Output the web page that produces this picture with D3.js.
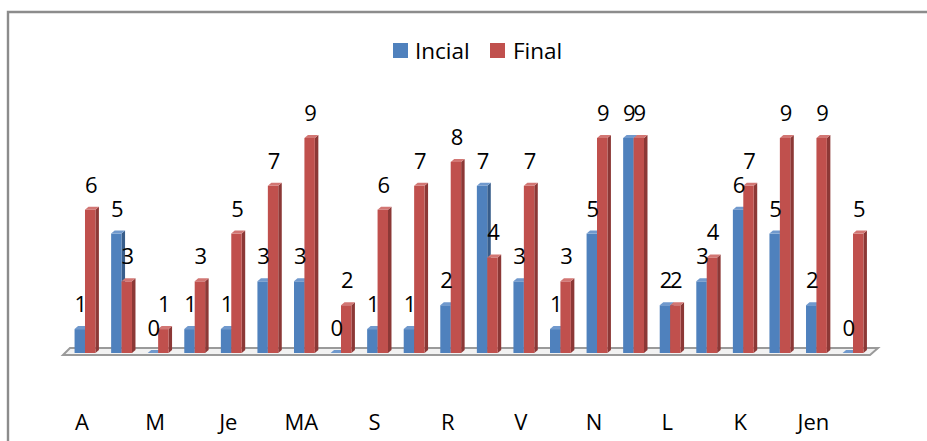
<!DOCTYPE html>
<html><head><meta charset="utf-8">
<script src="https://cdn.jsdelivr.net/npm/d3@7"></script>
<style>html,body{margin:0;padding:0;background:#fff;}svg{display:block;}</style>
</head><body>
<svg id="c" width="927" height="441"></svg>
<script>
const tickLabels = ["A","M","Je","MA","S","R","V","N","L","K","Jen"];
const seriesNames = ["Incial","Final"];
const incial = [1,5,0,1,1,3,3,0,1,1,2,7,3,1,5,9,2,3,6,5,2,0];
const final  = [6,3,1,3,5,7,9,2,6,7,8,4,7,3,9,9,2,4,7,9,9,5];

const colors = {
  Incial: {front:"#4F81BD", top:"#7099CD", side:"#385D8A"},
  Final:  {front:"#C0504D", top:"#D27673", side:"#8C3836"}
};
const FONT = "'Open Sans', 'Liberation Sans', sans-serif";
const svg = d3.select("#c");

// frame
svg.append("path").attr("d","M8,441 V12 H927").attr("fill","none").attr("stroke","#8c8c8c").attr("stroke-width",2.4);

const n = incial.length;
const x0 = d3.scaleBand().domain(d3.range(n)).range([66.7, 871.3]).paddingInner(0.43).paddingOuter(0.215);
const x1 = d3.scaleBand().domain(seriesNames).range([0, x0.bandwidth()]);
const y = d3.scaleLinear().domain([0, 10]).range([353, 114.1]);

const dx = 3.5, dy = 3;

// floor
const fy = y(0);
svg.append("path")
  .attr("d", `M63,${fy+2} L70,${fy-5} L878,${fy-5} L870,${fy+2} Z`)
  .attr("fill","#f2f2f2").attr("stroke","#9a9a9a").attr("stroke-width",2);

const g = svg.append("g");
const data = d3.range(n).map(i => ({i, vals:[{s:"Incial", v:incial[i]},{s:"Final", v:final[i]}]}));

data.forEach(d => {
  d.vals.forEach(b => {
    const xl = x0(d.i) + x1(b.s), w = x1.bandwidth();
    const yt = y(b.v), yb = y(0);
    const c = colors[b.s];
    g.append("path").attr("d", `M${xl+w},${yt} L${xl+w+dx},${yt-dy} L${xl+w+dx},${yb-dy} L${xl+w},${yb} Z`).attr("fill", c.side);
    g.append("rect").attr("x", xl).attr("y", yt).attr("width", w).attr("height", Math.max(0, yb-yt)).attr("fill", c.front);
    g.append("path").attr("d", `M${xl},${yt} L${xl+dx},${yt-dy} L${xl+w+dx},${yt-dy} L${xl+w},${yt} Z`).attr("fill", c.top);
  });
});

// data labels
const lg = svg.append("g").attr("font-family", FONT).attr("font-size", 22).attr("fill","#000").attr("text-anchor","middle");
data.forEach(d => {
  d.vals.forEach(b => {
    lg.append("text")
      .attr("x", x0(d.i) + x1(b.s) + x1.bandwidth()/2 + 1)
      .attr("y", y(b.v) - 17)
      .text(b.v);
  });
});

// category axis
const ax = svg.append("g").attr("transform","translate(-3,430)")
  .call(d3.axisBottom(x0).tickValues(d3.range(0, n, 2)).tickFormat(i => tickLabels[i/2]).tickSize(0).tickPadding(0));
ax.select(".domain").remove();
ax.selectAll("text").attr("font-family", FONT).attr("font-size", 22).attr("fill","#000").attr("dy", 0).attr("y", 0);
ax.selectAll(".tick").attr("transform", d => `translate(${x0(d)+x0.bandwidth()/2},0)`);

// legend
const leg = svg.append("g").attr("font-family", FONT).attr("font-size", 22.5);
const legItems = [{s:"Incial", x:393, tx:415},{s:"Final", x:490, tx:513}];
legItems.forEach(it => {
  leg.append("rect").attr("x", it.x).attr("y", 43).attr("width", 15).attr("height", 15).attr("fill", colors[it.s].front);
  leg.append("text").attr("x", it.tx).attr("y", 58.5).text(it.s);
});
</script>
</body></html>
